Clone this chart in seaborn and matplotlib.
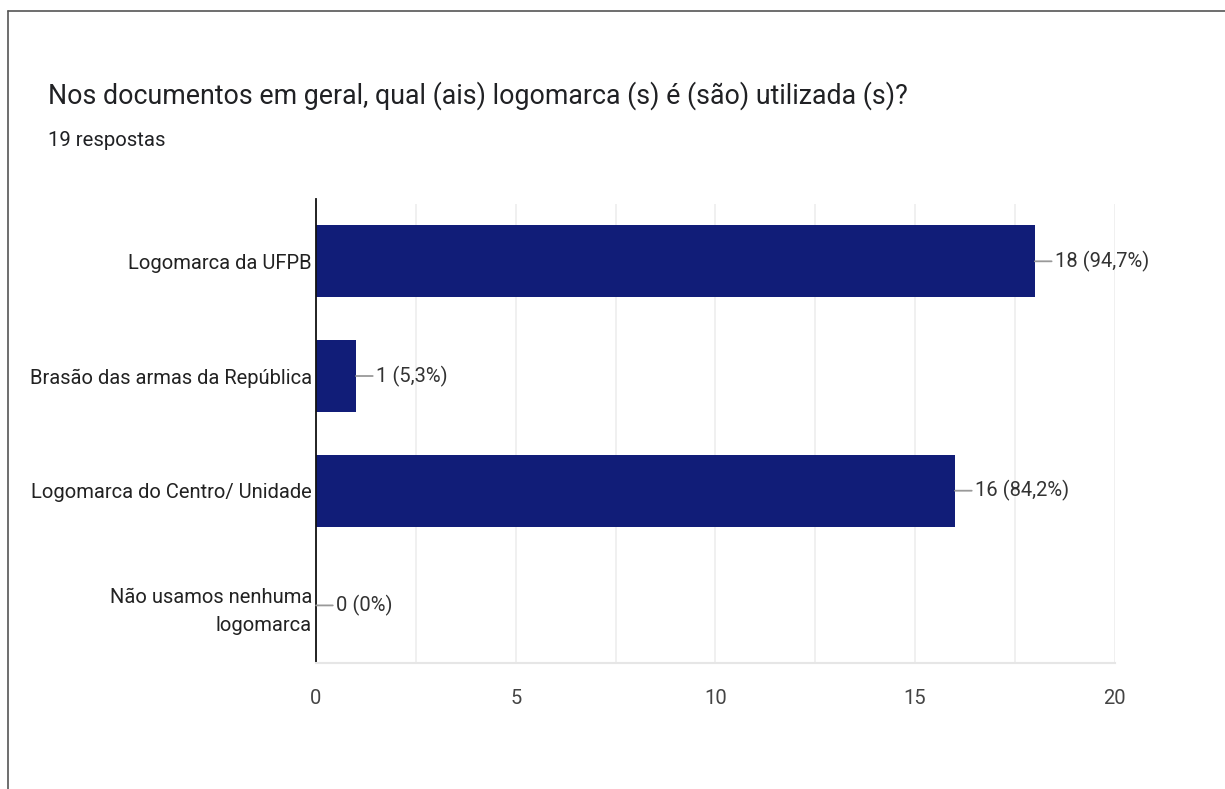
import pandas as pd
import seaborn as sns
import matplotlib.pyplot as plt
from matplotlib.ticker import MultipleLocator

# ─── Data ─────────────────────────────────────────────────────────────────────

categorias = [
    "Logomarca da UFPB",
    "Brasão das armas da República",
    "Logomarca do Centro/ Unidade",
    "Não usamos nenhuma\nlogomarca",
]
respostas = [18, 1, 16, 0]
rotulos = ["18 (94,7%)", "1 (5,3%)", "16 (84,2%)", "0 (0%)"]
total = 19

df = pd.DataFrame({"categoria": categorias, "respostas": respostas})

# ─── Style ────────────────────────────────────────────────────────────────────

sns.set_theme(style="white")
plt.rcParams["font.family"] = ["Roboto", "DejaVu Sans"]

fig = plt.figure(figsize=(12.25, 7.89), dpi=100)
ax = fig.add_axes([0.258, 0.160, 0.652, 0.5815])

sns.barplot(data=df, x="respostas", y="categoria", color="#111d78",
            width=0.63, ax=ax, saturation=1, edgecolor="none")

ax.set_xlim(0, 20)
ax.set_ylim(3.5, -0.5)
ax.xaxis.set_major_locator(MultipleLocator(5))
ax.xaxis.set_minor_locator(MultipleLocator(2.5))
ax.grid(axis="x", which="both", color="#eeeeee", linewidth=1.2)
ax.set_axisbelow(True)
ax.set_xlabel("")
ax.set_ylabel("")

for s in ["top", "right"]:
    ax.spines[s].set_visible(False)
ax.spines["bottom"].set_color("#e6e6e6")
ax.spines["bottom"].set_linewidth(1.5)
ax.spines["left"].set_color("#111111")
ax.spines["left"].set_linewidth(1.3)
ax.spines["left"].set_bounds(3.5, -0.54)

ax.tick_params(axis="x", which="both", length=0, pad=19, labelsize=14.5,
               labelcolor="#444444")
ax.tick_params(axis="y", length=0, pad=3, labelsize=14.5, labelcolor="#222222")
for t in ax.get_yticklabels():
    t.set_linespacing(1.6)

# value labels with connector line
for i, (v, lab) in enumerate(zip(respostas, rotulos)):
    ax.annotate(lab, xy=(v, i), xytext=(20, 0), textcoords="offset pixels",
                va="center", ha="left", fontsize=14.5, color="#333333",
                arrowprops=dict(arrowstyle="-", color="#999999", lw=1.3,
                                shrinkA=0, shrinkB=0))

# ─── Titles ───────────────────────────────────────────────────────────────────

fig.text(0.039, 0.879, "Nos documentos em geral, qual (ais) logomarca (s) é (são) utilizada (s)?",
         fontsize=19.3, color="#202124", va="center", ha="left")
fig.text(0.039, 0.822, f"{total} respostas", fontsize=14.6, color="#202124",
         va="center", ha="left")

# border of the screenshot
fig.add_artist(plt.Line2D([0.0065, 1.0], [0.986, 0.986], color="#555555",
                          linewidth=1.2, transform=fig.transFigure))
fig.add_artist(plt.Line2D([0.0065, 0.0065], [0.0, 0.986], color="#555555",
                          linewidth=1.2, transform=fig.transFigure))

plt.savefig("out.png", dpi=100)
